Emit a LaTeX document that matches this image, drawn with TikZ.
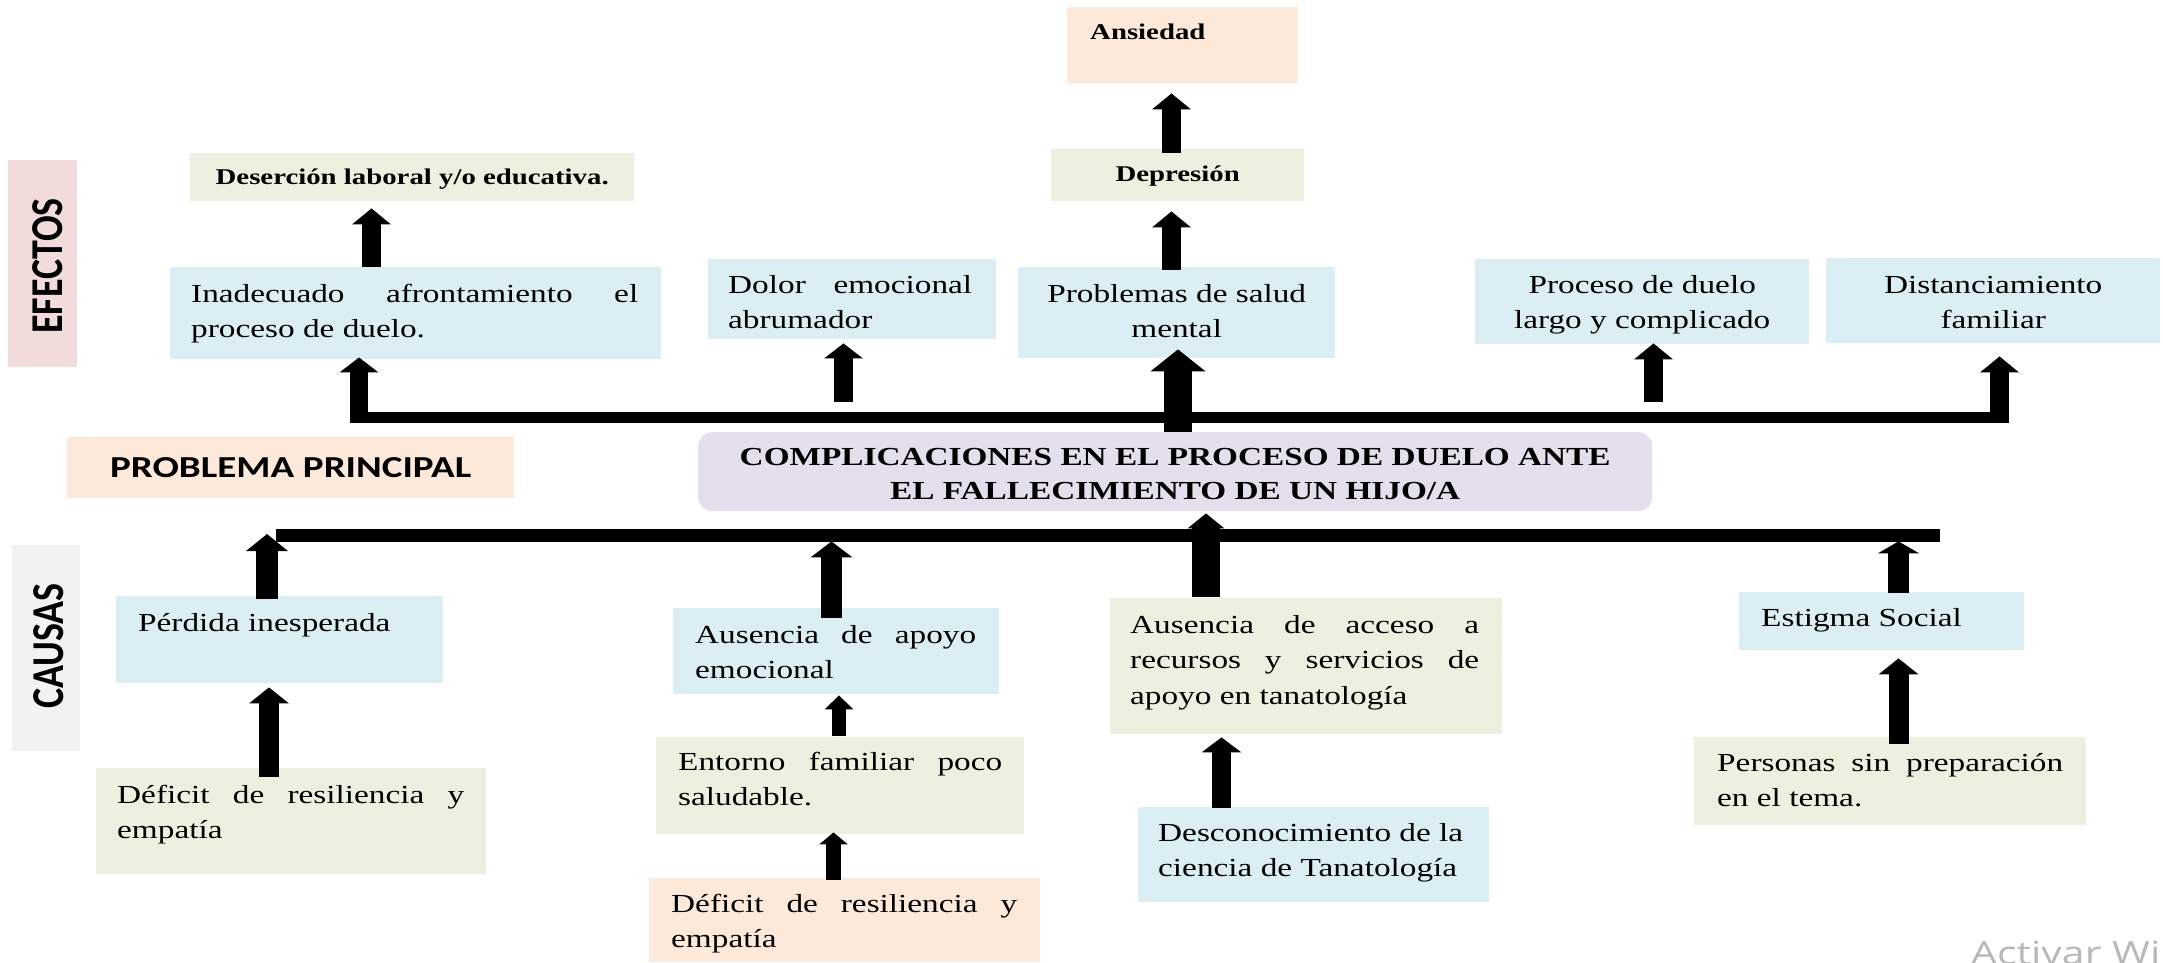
\documentclass[tikz,border=0pt]{standalone}
\usepackage{graphicx}
\usepackage{fontspec}
\setmainfont{Liberation Serif}[FakeStretch=1.28]
\newfontfamily\lblfont{Carlito}[FakeStretch=1.28]
\newfontfamily\sidefont{Carlito}
\newfontfamily\wmfont{Open Sans}[FakeStretch=1.28]
\usetikzlibrary{arrows.meta}
\definecolor{cblue}{HTML}{DAEEF3}
\definecolor{cgreen}{HTML}{EBF1DE}
\definecolor{cpeach}{HTML}{FDE9D9}
\definecolor{clav}{HTML}{E4DFEC}
\definecolor{cpink}{HTML}{F2DCDB}
\definecolor{cgray}{HTML}{F2F2F2}
\newcommand\fntreg{\fontsize{26}{35.5}\selectfont}
\newcommand\fntbold{\bfseries\fontsize{22.5}{30}\selectfont}
\newcommand\jl[1]{\makebox[\linewidth][s]{#1}\\}
\newcommand\mkbox[6]{\node[boxbg=#2, minimum width={#5pt-#3pt}, minimum height={#6pt-#4pt}] (#1) at (#3,#4) {};}
\tikzset{
  boxbg/.style={fill=#1, draw=none, inner sep=0pt, anchor=north west},
  txt/.style={inner sep=0pt, anchor=base west, font=\fntreg},
  btxt/.style={inner sep=0pt, anchor=base west, font=\fntbold},
  side/.style={rotate=90, inner sep=0pt, font=\sidefont\bfseries\fontsize{38}{40}\selectfont},
  bar/.style={fill=black, inner sep=0pt, anchor=north west},
  blk/.style n args={3}{draw=black, line width=#1pt, -{Triangle[width=#2pt, length=#3pt]}}
}
\begin{document}
\begin{tikzpicture}[x=1pt, y=-1pt]
\useasboundingbox (0,0) rectangle (2163,962);
% ---------- boxes ----------
\mkbox{efec}{cpink}{8}{160}{77}{367}
\mkbox{caus}{cgray}{12}{545}{80}{751}
\mkbox{ppal}{cpeach}{67}{437}{514}{498}
\node[fill=clav, rounded corners=14pt, inner sep=0pt, anchor=north west,
      minimum width=954pt, minimum height=79pt] (cent) at (698,432) {};
\mkbox{ansi}{cpeach}{1067}{7}{1298}{83}
\mkbox{depr}{cgreen}{1051}{149}{1304}{201}
\mkbox{dese}{cgreen}{190}{153}{634}{201}
\mkbox{inad}{cblue}{170}{267}{661}{359}
\mkbox{dolo}{cblue}{708}{259}{996}{339}
\mkbox{prob}{cblue}{1018}{267}{1335}{358}
\mkbox{proc}{cblue}{1475}{259}{1809}{344}
\mkbox{dist}{cblue}{1826}{258}{2160}{343}
\mkbox{perd}{cblue}{116}{596}{443}{683}
\mkbox{defa}{cgreen}{96}{768}{486}{874}
\mkbox{apoy}{cblue}{673}{608}{999}{694}
\mkbox{ento}{cgreen}{656}{737}{1024}{834}
\mkbox{defb}{cpeach}{649}{878}{1040}{962}
\mkbox{acce}{cgreen}{1110}{598}{1502}{734}
\mkbox{desc}{cblue}{1138}{807}{1489}{902}
\mkbox{esti}{cblue}{1739}{592}{2024}{650}
\mkbox{pers}{cgreen}{1694}{737}{2086}{825}
% ---------- bars ----------
\node[bar, minimum width=1652pt, minimum height=11pt] (ubar) at (353,412) {};
\node[bar, minimum width=1664pt, minimum height=13pt] (lbar) at (276,529) {};
% ---------- texts ----------
\node[side] (efec-t) at (48,266) {\scalebox{1}[1.2]{EFECTOS}};
\node[side] (caus-t) at (49,646) {\scalebox{1}[1.2]{CAUSAS}};
\node[inner sep=0pt, anchor=base west, font=\lblfont\bfseries\fontsize{30.5}{32}\selectfont] (ppal-t) at (67,477) {\parbox[t]{447pt}{\centering PROBLEMA PRINCIPAL}};
\node[inner sep=0pt, anchor=base west, font=\bfseries\fontsize{26}{34}\selectfont] (cent-t) at (698,465) {\parbox[t]{954pt}{\centering COMPLICACIONES EN EL PROCESO DE DUELO ANTE\\EL FALLECIMIENTO DE UN HIJO/A}};
\node[btxt] (ansi-t) at (1090,39) {Ansiedad};
\node[btxt] (depr-t) at (1051,181) {\parbox[t]{253pt}{\centering Depresión}};
\node[btxt] (dese-t) at (190,184) {\parbox[t]{444pt}{\centering Deserción laboral y/o educativa.}};
\node[txt] (inad-t) at (191,302) {\parbox[t]{447pt}{\raggedright\jl{Inadecuado afrontamiento el}proceso de duelo.}};
\node[txt] (dolo-t) at (728,293) {\parbox[t]{244pt}{\raggedright\jl{Dolor emocional}abrumador}};
\node[txt] (prob-t) at (1018,302) {\parbox[t]{317pt}{\centering Problemas de salud\\mental}};
\node[txt] (proc-t) at (1475,293) {\parbox[t]{334pt}{\centering Proceso de duelo\\largo y complicado}};
\node[txt] (dist-t) at (1826,293) {\parbox[t]{334pt}{\centering Distanciamiento\\familiar}};
\node[txt] (perd-t) at (138,631) {Pérdida inesperada};
\node[txt] (defa-t) at (117,803) {\parbox[t]{347pt}{\raggedright\jl{Déficit de resiliencia y}empatía}};
\node[txt] (apoy-t) at (695,643) {\parbox[t]{281pt}{\raggedright\jl{Ausencia de apoyo}emocional}};
\node[txt] (ento-t) at (678,770) {\parbox[t]{324pt}{\raggedright\jl{Entorno familiar poco}saludable.}};
\node[txt] (defb-t) at (671,912) {\parbox[t]{346pt}{\raggedright\jl{Déficit de resiliencia y}empatía}};
\node[txt] (acce-t) at (1130,633) {\parbox[t]{349pt}{\raggedright\jl{Ausencia de acceso a}\jl{recursos y servicios de}apoyo en tanatología}};
\node[txt] (desc-t) at (1158,841) {\parbox[t]{320pt}{\raggedright Desconocimiento de la\\ciencia de Tanatología}};
\node[txt] (esti-t) at (1761,626) {Estigma Social};
\node[txt] (pers-t) at (1717,771) {\parbox[t]{346pt}{\raggedright\jl{Personas sin preparación}en el tema.}};
% ---------- arrow x positions ----------
\coordinate (xa) at (371.5,0);
\coordinate (xb) at (359,0);
\coordinate (xc) at (843.5,0);
\coordinate (xd) at (1178,0);
\coordinate (xe) at (1171.5,0);
\coordinate (xf) at (1653.5,0);
\coordinate (xg) at (1999.5,0);
\coordinate (xh) at (267,0);
\coordinate (xi) at (269,0);
\coordinate (xj) at (831.5,0);
\coordinate (xk) at (839,0);
\coordinate (xl) at (833.5,0);
\coordinate (xm) at (1206,0);
\coordinate (xn) at (1221.5,0);
\coordinate (xo) at (1898.5,0);
% ---------- arrows: effects ----------
\draw[blk={19}{38}{16}, shorten >=7pt] (inad.north -| xa) -- (dese.south -| xa);
\draw[blk={18}{38}{15}, shorten >=-2pt] (ubar.south -| xb) -- (inad.south -| xb);
\draw[blk={19}{38}{15}, shorten <=10pt, shorten >=4pt] (ubar.north -| xc) -- (dolo.south -| xc);
\draw[blk={28}{54}{22}, shorten >=-9pt] (cent.north -| xd) -- (prob.south -| xd);
\draw[blk={19}{38}{16}, shorten <=-3pt, shorten >=10pt] (prob.north -| xe) -- (depr.south -| xe);
\draw[blk={19}{38}{16}, shorten <=-4pt, shorten >=10pt] (depr.north -| xe) -- (ansi.south -| xe);
\draw[blk={19}{38}{16}, shorten <=10pt, shorten >=-1pt] (ubar.north -| xf) -- (proc.south -| xf);
\draw[blk={19}{38}{16}, shorten >=13pt] (ubar.south -| xg) -- (dist.south -| xg);
% ---------- arrows: causes ----------
\draw[blk={22}{41}{17}, shorten <=-3pt, shorten >=5pt] (perd.north -| xh) -- (lbar.north -| xh);
\draw[blk={20}{39}{16}, shorten <=-9pt, shorten >=4pt] (defa.north -| xi) -- (perd.south -| xi);
\draw[blk={21}{41}{16}, shorten <=-10pt, shorten >=-1pt] (apoy.north -| xj) -- (lbar.south -| xj);
\draw[blk={14}{28}{14}, shorten <=1pt, shorten >=1pt] (ento.north -| xk) -- (apoy.south -| xk);
\draw[blk={15}{28}{12}, shorten <=-2pt, shorten >=-2pt] (defb.north -| xl) -- (ento.south -| xl);
\draw[blk={28}{36}{15}, shorten <=1pt, shorten >=2pt] (acce.north -| xm) -- (cent.south -| xm);
\draw[blk={19}{39}{15}, shorten <=-1pt, shorten >=3pt] (desc.north -| xn) -- (acce.south -| xn);
\draw[blk={21}{41}{12}, shorten <=-1pt, shorten >=-1pt] (esti.north -| xo) -- (lbar.south -| xo);
\draw[blk={20}{39}{16}, shorten <=-7pt, shorten >=8pt] (pers.north -| xo) -- (esti.south -| xo);
% ---------- watermark ----------
\begin{scope}
\clip (0,0) rectangle (2163,962);
\node[inner sep=0pt, anchor=base west, text=black!28, font=\wmfont\fontsize{32}{34}\selectfont] (wm) at (1971,964) {Activar Windows};
\end{scope}
\end{tikzpicture}
\end{document}
